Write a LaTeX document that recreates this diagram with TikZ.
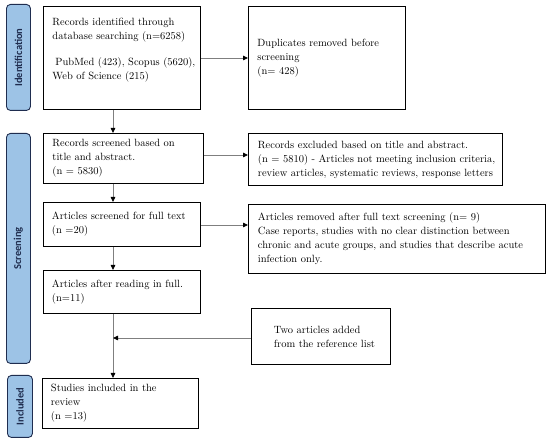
\documentclass[tikz,border=0pt]{standalone}
\usepackage{fontspec}
\newfontfamily\tabfont{Carlito}
\usetikzlibrary{arrows.meta}
\definecolor{tabfill}{HTML}{9DC3E6}
\definecolor{tabdraw}{HTML}{1F2D4F}
\definecolor{tabtext}{HTML}{1F2D4F}
\definecolor{linegray}{HTML}{7F7F7F}
\tikzset{
  box/.style={draw=black, line width=0.9pt, anchor=north west, inner sep=0pt, align=left,
    font=\fontsize{10.5}{14}\selectfont},
  tab/.style={draw=tabdraw, fill=tabfill, line width=0.9pt, rounded corners=4pt, anchor=north west, inner sep=0pt},
  tablabel/.style={rotate=90, font=\tabfont\bfseries\fontsize{10.5}{12}\selectfont, text=tabtext},
  conn/.style={draw=linegray, line width=0.8pt, -{Triangle[length=5pt,width=4.5pt,fill=black,color=black]}},
  plainconn/.style={draw=linegray, line width=0.8pt}
}
\newcommand{\bx}[3]{\parbox[c][#1pt][#2]{#3pt}}
\begin{document}
\begin{tikzpicture}[x=1pt,y=-1pt]
\useasboundingbox (0,0) rectangle (550,443);
% tabs
\node[tab, minimum width=24pt, minimum height=106pt] (tid) at (6,4) {};
\node[tablabel] (tidl) at (tid.center) {Identification};
\node[tab, minimum width=24pt, minimum height=230pt] (tsc) at (6,133) {};
\node[tablabel] (tscl) at (tsc.center) {Screening};
\node[tab, minimum width=25pt, minimum height=62pt] (tin) at (7,375) {};
\node[tablabel] (tinl) at (tin.center) {Included};
% boxes
\node[box, minimum width=157pt, minimum height=103pt] (b1) at (43,6)
  {\hspace*{8pt}\bx{103}{t}{147}{\vspace*{12pt}Records identified through\\database searching (n=6258)\\[12pt]
   \hspace*{3pt}PubMed (423), Scopus (5620),\\Web of Science (215)}};
\node[box, minimum width=157pt, minimum height=103pt] (dup) at (248,6)
  {\hspace*{8pt}\bx{98}{c}{147}{Duplicates removed before\\screening\\(n= 428)}};
\node[box, minimum width=160pt, minimum height=50pt] (b2) at (43,133)
  {\hspace*{8pt}\bx{50}{c}{150}{Records screened based on\\title and abstract.\\(n = 5830)}};
\node[box, minimum width=254pt, minimum height=52pt] (exc) at (248,133)
  {\hspace*{9pt}\bx{52}{c}{244}{Records excluded based on title and abstract.\\(n = 5810) - Articles not meeting inclusion criteria,\\review articles, systematic reviews, response letters}};
\node[box, minimum width=157pt, minimum height=44pt] (b3) at (43,202)
  {\hspace*{8pt}\bx{44}{c}{148}{Articles screened for full text\\(n =20)}};
\node[box, minimum width=297pt, minimum height=69pt] (rem) at (248,204)
  {\hspace*{9pt}\bx{69}{c}{287}{Articles removed after full text screening (n= 9)\\Case reports, studies with no clear distinction between\\chronic and acute groups, and studies that describe acute\\infection only.}};
\node[box, minimum width=157pt, minimum height=43pt] (b4) at (43,270)
  {\hspace*{8pt}\bx{43}{c}{148}{Articles after reading in full.\\(n=11)}};
\node[box, minimum width=139pt, minimum height=56pt] (two) at (251,308)
  {\hspace*{22pt}\bx{56}{c}{116}{Two articles added\\from the reference list}};
\node[box, minimum width=156pt, minimum height=50pt] (b5) at (42,378)
  {\hspace*{8pt}\bx{50}{c}{147}{Studies included in the\\review\\(n =13)}};
% connectors
\coordinate (j) at (113,338);
\draw[conn] (b1.east |- 0,58) -- (dup.west |- 0,58);
\draw[conn] (b1.south -| 113,0) -- (b2.north -| 113,0);
\draw[conn] (b2.east |- 0,155) -- (exc.west |- 0,155);
\draw[conn] (b2.south -| 113,0) -- (b3.north -| 113,0);
\draw[conn] (b3.east |- 0,225) -- (rem.west |- 0,225);
\draw[conn] (b3.south -| 113,0) -- (b4.north -| 113,0);
\draw[conn] (b4.south -| 113,0) -- (b5.north -| 113,0);
\draw[conn] (two.west |- j) -- (j);
\end{tikzpicture}
\end{document}
